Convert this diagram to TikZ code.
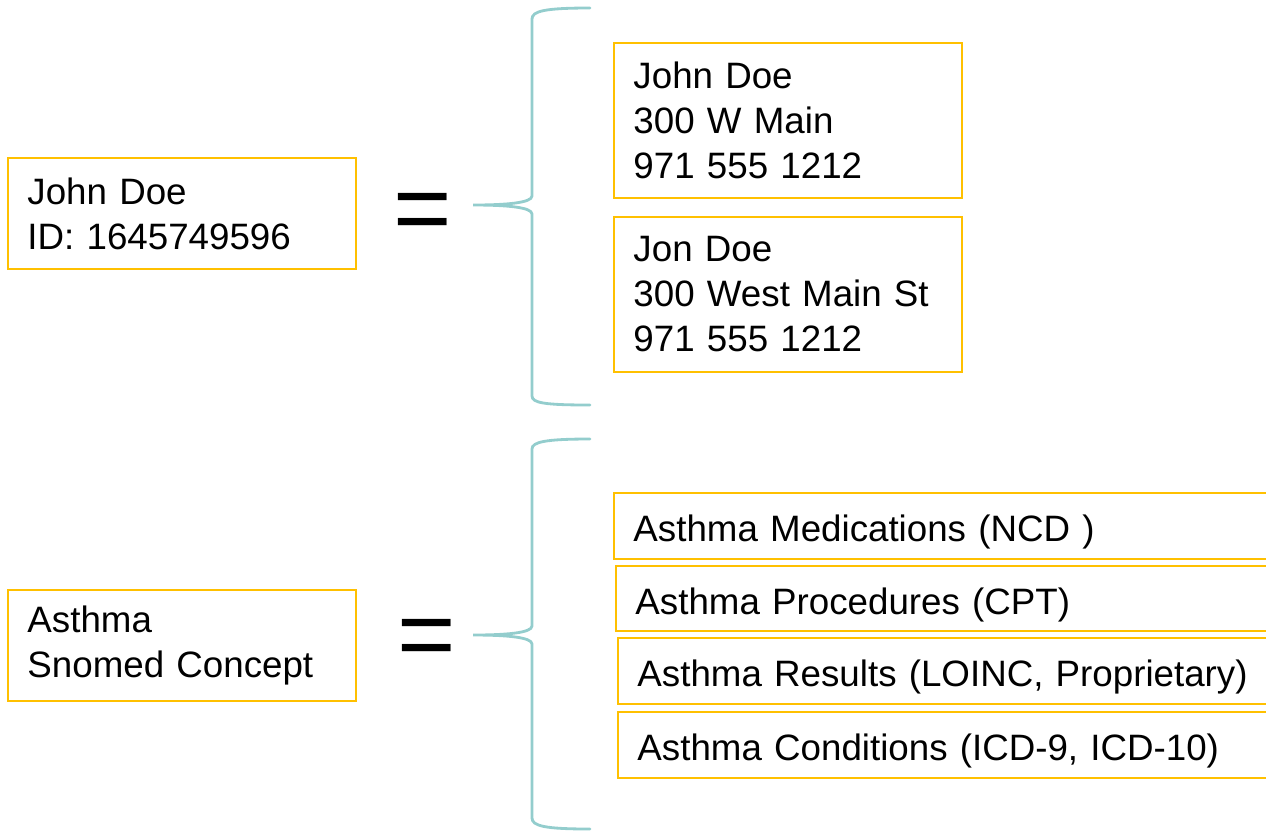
\documentclass[tikz,border=0pt]{standalone}
\usepackage{fontspec}
\setmainfont{Liberation Sans}
\usepackage{tikz}
\usetikzlibrary{positioning}
\definecolor{boxgold}{HTML}{FFC000}
\definecolor{bracecol}{HTML}{93CDCD}

\begin{document}
\begin{tikzpicture}[x=0.02cm,y=-0.02cm,
    box/.style={draw=boxgold, line width=1.1pt, align=left, anchor=west,
      inner xsep=0.39cm, inner ysep=0pt, font=\fontsize{20.9}{25.6}\selectfont},
    oneline/.style={box, minimum width=14cm, minimum height=1.32cm, text width=13.22cm,
      text height=0.72cm, text depth=0.1cm},
    brace/.style={draw=bracecol, line width=1.6pt, line cap=round},
    eqsign/.style={font=\fontsize{57}{60}\selectfont, inner sep=0pt}]
      \useasboundingbox (0,0) rectangle (1266,833);
      \clip (0,0) rectangle (1266,833);
      % patient match
      \node[box, minimum width=6.96cm, minimum height=2.22cm, text width=6.18cm] (pid) at (7,213.5) {John Doe\\ID: 1645749596};
      \node[eqsign] (eqA) at (422.5,217.5) {=};
      \node[box, minimum width=6.96cm, minimum height=3.1cm, text width=6.18cm] (addrA) at (613,120.5) {John Doe\\300 W Main\\971 555 1212};
      \node[box, minimum width=6.96cm, minimum height=3.1cm, text width=6.18cm] (addrB) at (613,294.5) {Jon Doe\\300 West Main St\\971 555 1212};
      \coordinate (tipA) at (473,205);
      \draw[brace] (590,8) .. controls (545,8) and (532,11) .. (532,19) -- (532,196)
        .. controls (532,203) and (505,205) .. (tipA)
        .. controls (505,205) and (532,207) .. (532,214) -- (532,396)
        .. controls (532,403) and (545,405) .. (590,405);
      % concept match
      \node[box, minimum width=6.96cm, minimum height=2.22cm, text width=6.18cm] (concept) at (7,645.5) {Asthma\\Snomed Concept};
      \node[eqsign] (eqB) at (426.5,643.5) {=};
      \node[oneline] (meds) at (613,526) {Asthma Medications (NCD )};
      \node[oneline, minimum height=1.3cm] (procs) at (615,598.5) {Asthma Procedures (CPT)};
      \node[oneline] (results) at (617,671) {Asthma Results (LOINC, Proprietary)};
      \node[oneline] (conds) at (617,745) {Asthma Conditions (ICD-9, ICD-10)};
      \coordinate (tipB) at (473,635);
      \draw[brace] (590,439) .. controls (545,439) and (532,442) .. (532,449) -- (532,626)
        .. controls (532,633) and (505,635) .. (tipB)
        .. controls (505,635) and (532,637) .. (532,644) -- (532,818)
        .. controls (532,826) and (545,829) .. (590,829);
    \end{tikzpicture}
\end{document}
